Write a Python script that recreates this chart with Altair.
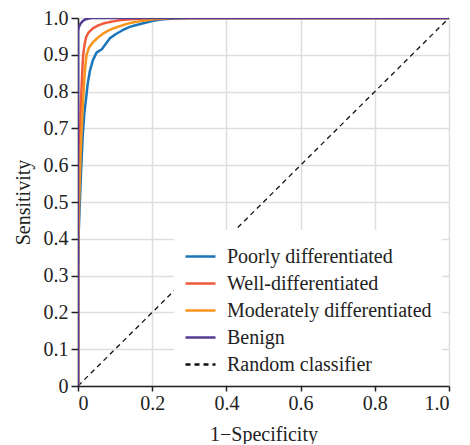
import altair as alt
import pandas as pd

series_names = ["Poorly differentiated", "Well-differentiated", "Moderately differentiated", "Benign", "Random classifier"]
series_colors = ["#1a75bb", "#f15a3a", "#f7941d", "#553c93", "#111111"]

poor_fpr = [0, 0, 0.002, 0.005, 0.009, 0.013, 0.017, 0.021, 0.026, 0.032, 0.04, 0.05, 0.064, 0.075, 0.086, 0.1, 0.122, 0.14, 0.158, 0.18, 0.2, 0.225, 0.25, 0.3, 1.0]
poor_tpr = [0, 0.32, 0.42, 0.5, 0.6, 0.685, 0.74, 0.775, 0.82, 0.856, 0.885, 0.906, 0.915, 0.93, 0.945, 0.955, 0.968, 0.976, 0.981, 0.987, 0.992, 0.996, 0.998, 1.0, 1.0]

well_fpr = [0, 0, 0.003, 0.006, 0.008, 0.01, 0.012, 0.014, 0.018, 0.022, 0.028, 0.04, 0.055, 0.068, 0.09, 0.113, 0.158, 0.2, 0.25, 1.0]
well_tpr = [0, 0.4, 0.6, 0.7, 0.77, 0.82, 0.865, 0.9, 0.93, 0.948, 0.96, 0.972, 0.98, 0.985, 0.99, 0.994, 0.998, 0.999, 1.0, 1.0]

mod_fpr = [0, 0, 0.003, 0.006, 0.009, 0.012, 0.014, 0.018, 0.023, 0.03, 0.041, 0.055, 0.068, 0.09, 0.113, 0.135, 0.158, 0.2, 0.25, 1.0]
mod_tpr = [0, 0.35, 0.5, 0.6, 0.68, 0.74, 0.78, 0.85, 0.9, 0.92, 0.935, 0.948, 0.958, 0.97, 0.978, 0.985, 0.99, 0.996, 1.0, 1.0]

benign_fpr = [0, 0, 0.002, 0.006, 0.012, 0.019, 0.03, 0.04, 1.0]
benign_tpr = [0, 0.965, 0.975, 0.983, 0.991, 0.996, 0.999, 1.0, 1.0]

random_fpr = [0, 1.0]
random_tpr = [0, 1.0]

rows = []
for name, fx, ty in zip(series_names,
                        [poor_fpr, well_fpr, mod_fpr, benign_fpr, random_fpr],
                        [poor_tpr, well_tpr, mod_tpr, benign_tpr, random_tpr]):
    for i, (a, b) in enumerate(zip(fx, ty)):
        rows.append({"series": name, "fpr": a, "tpr": b, "i": i})
df = pd.DataFrame(rows)

FONT = "Liberation Serif"

color = alt.Color("series:N", scale=alt.Scale(domain=series_names, range=series_colors),
                  sort=series_names, title=None,
                  legend=alt.Legend(orient="none", legendX=96, legendY=212, fillColor="white",
                                    padding=10, symbolType="stroke", symbolSize=900,
                                    symbolStrokeWidth=2.5, labelFontSize=20, labelFont=FONT,
                                    labelColor="#222222", rowPadding=0, labelOffset=10,
                                    labelLimit=400))
dash = alt.StrokeDash("series:N", scale=alt.Scale(domain=series_names,
                      range=[[1, 0], [1, 0], [1, 0], [1, 0], [5, 4]]),
                      sort=series_names, title=None, legend=None)

xaxis = alt.Axis(values=[0, 0.2, 0.4, 0.6, 0.8, 1.0],
                 labelExpr="datum.value == 0 ? '0' : format(datum.value, '.1f')",
                 title="1−Specificity", titleFont=FONT, titleFontSize=20, titleFontWeight="normal",
                 titleColor="#222222", labelFont=FONT, labelFontSize=20, labelColor="#222222",
                 domainColor="#222222", domainWidth=1.5, tickColor="#222222", tickWidth=1.5,
                 tickSize=5, labelPadding=2, titlePadding=11, gridColor="#dedede", gridWidth=1.5)
yaxis = alt.Axis(values=[0, 0.1, 0.2, 0.3, 0.4, 0.5, 0.6, 0.7, 0.8, 0.9, 1.0],
                 labelExpr="datum.value == 0 ? '0' : format(datum.value, '.1f')",
                 title="Sensitivity", titleFont=FONT, titleFontSize=20, titleFontWeight="normal",
                 titleColor="#222222", labelFont=FONT, labelFontSize=20, labelColor="#222222",
                 domainColor="#222222", domainWidth=1.5, tickColor="#222222", tickWidth=1.5,
                 tickSize=7, labelPadding=3, titlePadding=10, gridColor="#dedede", gridWidth=1.5)

base = alt.Chart(df).encode(
    x=alt.X("fpr:Q", scale=alt.Scale(domain=[0, 1], nice=False), axis=xaxis),
    y=alt.Y("tpr:Q", scale=alt.Scale(domain=[0, 1], nice=False), axis=yaxis),
    color=color,
    strokeDash=dash,
    order="i:Q",
)

curves = base.transform_filter(alt.datum.series != "Random classifier").mark_line(strokeWidth=2.5, clip=True)
diag = base.transform_filter(alt.datum.series == "Random classifier").mark_line(strokeWidth=1.3)

chart = alt.layer(diag, curves).properties(
    width=371, height=368, padding={"left": 5, "top": 0, "right": 5, "bottom": 0}
).configure_view(stroke="#222222", strokeWidth=1.5).configure(background="white", font=FONT)

chart.save("out.html", embed_options={"renderer": "svg", "actions": False})
